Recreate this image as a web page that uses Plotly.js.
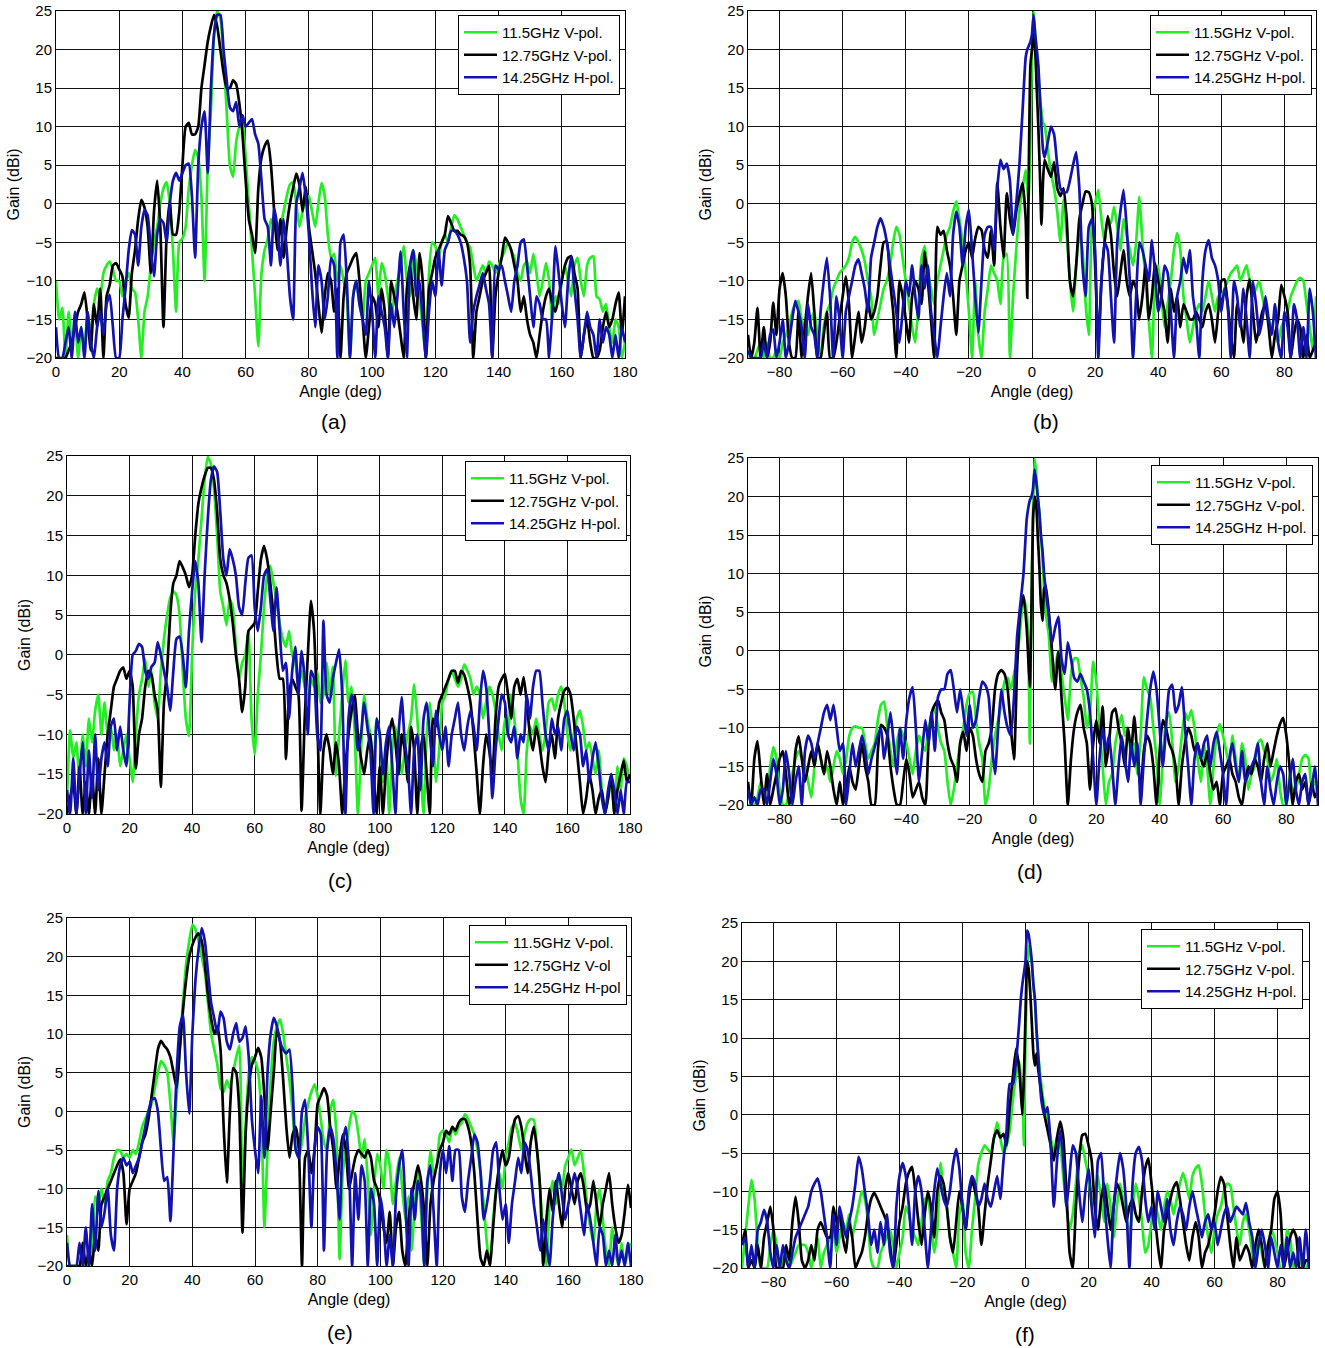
<!DOCTYPE html>
<html><head><meta charset="utf-8">
<script src="https://cdn.plot.ly/plotly-3.0.1.min.js"></script>
<style>body{margin:0;background:#fff}#chart{width:1325px;height:1348px}</style>
</head><body><div id="chart"></div>
<script>
// ---------------- angle grids ----------------
const ANGLE_0_180 = [
0,1,2,3,4,5,6,7,8,9,10,11,12,13,14,15,16,17,18,19,20,21,22,23,24,25,26,27,28,29,
30,31,32,33,34,35,36,37,38,39,40,41,42,43,44,45,46,47,48,49,50,51,52,53,54,55,56,57,58,59,
60,61,62,63,64,65,66,67,68,69,70,71,72,73,74,75,76,77,78,79,80,81,82,83,84,85,86,87,88,89,
90,91,92,93,94,95,96,97,98,99,100,101,102,103,104,105,106,107,108,109,110,111,112,113,114,115,116,117,118,119,
120,121,122,123,124,125,126,127,128,129,130,131,132,133,134,135,136,137,138,139,140,141,142,143,144,145,146,147,148,149,
150,151,152,153,154,155,156,157,158,159,160,161,162,163,164,165,166,167,168,169,170,171,172,173,174,175,176,177,178,179,180];
const ANGLE_SYM = [
-90,-89,-88,-87,-86,-85,-84,-83,-82,-81,-80,-79,-78,-77,-76,-75,-74,-73,-72,-71,
-70,-69,-68,-67,-66,-65,-64,-63,-62,-61,-60,-59,-58,-57,-56,-55,-54,-53,-52,-51,
-50,-49,-48,-47,-46,-45,-44,-43,-42,-41,-40,-39,-38,-37,-36,-35,-34,-33,-32,-31,
-30,-29,-28,-27,-26,-25,-24,-23,-22,-21,-20,-19,-18,-17,-16,-15,-14,-13,-12,-11,
-10,-9,-8,-7,-6,-5,-4,-3,-2,
-1.5,-1,-0.5,0,0.5,1,1.5,2,2.5,3,3.5,4,
5,6,7,8,9,10,11,12,13,14,15,16,17,18,19,20,21,22,23,24,25,26,27,28,29,30,
31,32,33,34,35,36,37,38,39,40,41,42,43,44,45,46,47,48,49,50,51,52,53,54,55,56,57,58,59,60,
61,62,63,64,65,66,67,68,69,70,71,72,73,74,75,76,77,78,79,80,81,82,83,84,85,86,87,88,89,90];

const NAMES_STD = ['11.5GHz V-pol.','12.75GHz V-pol.','14.25GHz H-pol.'];
const NAMES_E = ['11.5GHz V-pol.','12.75GHz V-ol','14.25GHz H-pol'];
const PANEL_LABELS = ['(a)','(b)','(c)','(d)','(e)','(f)'];
const X_TITLE = 'Angle (deg)';
const Y_TITLE = 'Gain (dBi)';

// ---------------- panel (a) ----------------
const A_GREEN = [
-10,-15,-13.5,-20,-14,-18,-15,-20,-16,-19,
-14,-17,-13,-11,-12,-9,-8,-7.5,-8.5,-10,
-10,-12,-10,-9,-11,-11.5,-15,-20,-14,-12,
-8,-5,-3,0,2,2.8,0,-6,-14,-5,
-4.5,-3,2,5,7,6,1,-10,5,12,
22,25,24,19,12,5,3.5,8,10,11,
6,0,-6,-12,-18.5,-9,-6,-4.5,-2,-3,
-4,-3,-1,1,2.5,2.8,0,-3,-1,0.5,
1,-1,-3,0,2.7,1,-4,-7,-6.5,-10,
-8,-10,-12,-20,-12,-10,-13,-15,-10,-9,
-8,-7,-12,-7.7,-9,-12,-15,-12,-10,-8,
-5.5,-10,-12,-6,-8,-12,-16,-20,-9,-5,
-5.5,-7,-5,-4,-5,-3,-1.5,-2,-3,-4,
-5,-5.7,-8,-10,-9,-8,-9,-7.5,-8,-9,
-8,-7,-6,-5,-6,-7,-9,-10,-8,-7.5,
-9,-6.5,-9,-12,-10,-7.7,-10,-15,-12,-13,
-10,-8,-10,-12,-8,-7,-10,-12,-8,-7,
-6.8,-12,-12.4,-14,-13,-16,-18,-15,-16,-20,-18];
const A_BLACK = [
-20,-20,-20,-20,-19,-18,-16,-14,-13,-11.5,
-15,-19,-13,-16,-11,-20,-12,-10.5,-8,-7.7,
-8.5,-9.4,-13,-14.8,-9,-6,-2,0.5,-0.5,-3,
-9,-1,3,-3,-16,-4,0.3,-4,-4,-1,
5,10,10.5,9,9,10,15,18,21,23,
24.5,23,20,17,15,15,16,15.5,13,9,
3,-2,-4,-6.4,2,6,7.5,8.2,5,-0.8,
-6,-2,-7,-3,0,2,3.9,2.5,-1,2.2,
-3,-6,-9,-13,-16.7,-12,-9,-10,-14,-11,
-20,-12,-9,-8,-7,-6.4,-10,-15,-20,-16,
-12,-13,-16,-11,-14,-20,-10,-12,-14,-17,
-20,-11,-8,-12,-15,-6.4,-10,-20,-11,-9,
-7,-6,-5,-4,-1.6,-2.5,-3.5,-3.5,-4,-4.2,
-5,-8,-20,-14,-12,-10,-9,-8,-20,-12,
-9,-7,-4.4,-5,-6,-8,-10,-14,-12,-15,
-17,-18,-20,-17,-14,-12,-11,-13,-14,-12,
-10,-8,-7,-6.8,-9,-11,-20,-17,-15,-18,
-20,-20,-19,-16,-14,-16,-15,-13,-11.5,-17,-12];
const A_BLUE = [
-16,-20,-20,-18,-16,-20,-14,-18,-16,-20,
-14,-18,-20,-16,-14,-17,-13,-11.8,-16,-20,
-20,-15,-11,-6,-3.4,-4,-8,-3,-0.8,-1.5,
-6,-9.4,-4,-2,-2.5,-5,0,3,4,3,
4,5,5.2,1,-7,5,10,12,4,15,
22,24.5,24.5,20,16,12.5,12,13.2,10,11.5,
10,10.5,11,9,7.8,3,-2,-3,-8,-0.6,
-3,-8,-2,-6,-12,-15,0,2,4,1,
-4,-11,-16,-8,-10,-15,-12,-7,-8,-20,
-5,-4,-10,-20,-12,-10,-13,-15,-17,-10,
-14,-20,-12,-14,-16,-20,-13,-16,-12,-6.2,
-14,-20,-8,-6,-12,-10,-15,-20,-14,-10,
-12,-6,-10.6,-6,-5,-3.5,-3.5,-4,-5,-7,
-10,-18,-14,-12,-10.5,-9,-11,-13,-20,-8,
-8.5,-8,-10,-12,-14,-10,-8,-5,-4.6,-8,
-12,-16,-12,-13,-15,-15,-20,-14,-5.5,-9,
-13,-16,-10,-6.8,-11,-15,-20,-17,-14,-16,
-17,-20,-15,-18,-16,-17,-20,-17,-20,-16,-18];

// ---------------- panel (b) ----------------
const B_GREEN = [
-20,-20,-20,-19,-18,-20,-18,-20,-20,-19,
-20,-18,-17,-16,-14,-13,-12.6,-15,-16,-17,
-15,-14,-17,-20,-16,-14,-13,-11,-10,-9,
-8.5,-8,-7,-5,-4.3,-5,-6,-7.5,-10,-12,
-17,-15,-13,-11,-10,-8,-5,-3,-4,-7,
-10,-13,-16,-18,-13,-7,-5.5,-9,-11,-13,
-10,-8,-6,-4,-3,-1,0.3,-2,-5,-9,
-14,-20,-10,-17,-20,-14,-11,-8,-9,-10,
-13,-7,-6.5,-20,-12,-6,-1,2,4.4,
2,0,8,20,25,22,20,17,14,12,10.5,10.2,
7,4,2,-1,-5,0.5,
-4,-10,-14,-8,-4,-6,-13,-17,-2,0,
1.8,-2,-5,-2,-2.5,-0.4,-3,-6,-2,-4,
-6,-8,-5,0.9,-5,-10,-15,-20,-10,-8,
-12,-16,-13,-10,-6,-3.8,-6,-12,-15,-18,
-16,-14,-13,-14,-12,-10,-12,-14,-12,-12,
-11,-10,-9,-8.5,-8,-10,-9,-8,-10,-12,
-11,-10,-12,-14,-15,-16,-17,-18,-16,-15,
-14,-12,-11,-10,-9.6,-10,-13,-16,-19,-12];
const B_BLACK = [
-17,-20,-18,-13.5,-20,-16,-20,-18,-12.8,-17,
-11,-9,-12,-18,-20,-20,-14,-20,-16,-12,
-9,-14,-20,-20,-17,-14,-20,-20,-18,-15,
-12,-9.4,-13,-20,-17,-14,-18,-16,-12.5,-15,
-14,-12,-8,-5,-4.9,-10,-14,-20,-10,-12,
-15,-18,-12,-10,-11,-13,-6.2,-10,-15,-20,
-3,-4,-3.5,-6,-8,-12,-17,-10,-8,-6,
-5,-7,-4.5,-3,-3.4,-6,-7,-3.5,-8,2.7,
-3,-7,1.4,-2,-4,-1,1,2.7,-2,
-12.2,5,18,20,22,20,15,10,4,-2.7,3,5.7,
4.5,3.5,5.4,2,1,2,
-2,-10,-12,-8,-2,0,1.6,1.5,0,-8,
-18,-10,-5,-1.6,-4,-9,-12,-9,-6,-10,
-12,-10,-11,-15,-12,-8,-15,-12,-7.7,-10,
-12,-14,-18,-11,-14,-12,-16,-13,-14,-15,
-15,-14,-15,-16,-14,-13,-15,-18,-14,-10,
-9.8,-13,-17,-20,-13,-15,-18,-12,-9.8,-14,
-18,-16,-14,-13,-16,-20,-17,-15,-10.5,-12,
-14,-20,-17,-15,-16,-20,-17,-20,-19,-18];
const B_BLUE = [
-19,-20,-20,-20,-20,-18,-20,-17,-16.3,-20,
-18,-15,-20,-18,-15,-12.6,-14,-16,-20,-13,
-16,-17,-20,-14,-10,-7,-12,-20,-12,-15,
-20,-14,-12,-10,-8,-7.2,-9,-11,-14,-7,
-5,-3,-1.9,-3,-5,-8,-11,-14,-18,-14,
-10,-12,-8,-12,-15,-8,-11,-8,-14,-17,
-20,-16,-12,-9,-12,-4,-1,-3,-8,-3,
-0.8,-6,-12,-16.7,-10,-4,-3,-3,-6,2,
5.7,4.5,5.2,3,-4,0,5,12,19,
20,20.5,21,22,24.5,22,20,18,14,10,7,6,
8,10,9,5,2,1.5,
1.5,3,5,6.7,2,-8,-12,-3,-2,-6,
-20,-10,-5,-6,-12,-18,-5,-1,1.8,-3,
-10,-20,-12,-5,-6,-8,-10,-4.7,-9,-14,
-12,-8,-9,-14,-20,-12,-10,-7,-9,-6,
-12,-15,-20,-10,-6,-4.7,-7,-8,-10,-14,
-11,-13,-20,-10,-12,-16,-11,-15,-20,-10,
-13,-17,-15,-12,-15,-17,-13,-18,-20,-14,
-16,-20,-13,-15,-20,-16,-20,-11,-14,-20];

// ---------------- panel (c) ----------------
const C_GREEN = [
-18,-9.5,-13,-11,-16,-10,-14,-8,-11,-7,
-5,-10,-6,-10,-9,-12,-10,-14,-12,-10,
-13,-16,-10,-5,-3,-0.5,-4,-2,-6,-8,
-2,2,5,7.2,8,7.5,5,-2,-8,-10.2,
0,8,12,17,22,24.9,24,21,15,8,
6,3.7,7,6,1,-3,-1,0,3,-8,
-12.5,-5,0,6,10,11.2,9,7,4,2,
1,3,0,-1,-4,-2,-4,-6,-3,-4,
-2,-6,-5,-1,-5,-1.5,-15.2,-10,-5,-0.7,
-6,-4,-10,-20,-12,-5,-8,-10,-14,-8,
-10,-16,-12,-20,-12,-9,-12,-15,-12,-10,
-8,-3.7,-8,-14,-20,-10,-6,-10,-16,-12,
-6,-5,-3,-2,-3,-4,-3,-1.2,-2,-3,
-5,-4,-5,-8,-6,-4,-5,-7,-10,-12,
-8,-10,-5,-8,-12,-18,-20,-12,-9,-10,
-8,-10,-12,-10,-6,-5.5,-7,-5,-4,-6,
-10,-12,-10,-8,-7,-9,-12,-11,-13,-15,
-12,-17,-20,-18,-16,-20,-14,-17,-13,-14,-16];
const C_BLACK = [
-20,-18,-16,-20,-14,-20,-16,-20,-15,-20,
-13,-20,-15,-10,-7,-4,-3,-2,-1.6,-3,
-2,-4,-14.3,-10,-8,-4,-2,-2.5,-5,-7,
-16.6,-6,-2,5,9,10,11.8,11,10,8.5,
10,15,19,21,22.5,23.5,23.5,22,18,12,
10,9,7,4,0,-3,-7.2,-4,3,3.5,
4,8,12,13.7,12,9,5,0,-3,-3,
-13.1,-5,-3,-4,-5,-19.6,-8,0,6.8,3,
-8,-20,-12,-10,-12,-15,-11,-14,-20,-14,
-10,-7,-5.1,-10,-13,-15,-12,-10,-15,-20,
-14,-20,-14,-10,-8,-11,-15,-10,-12,-16,
-9,-12,-20,-12,-10,-15,-20,-8,-9,-6,
-5,-4,-3,-2,-2,-3.5,-2,-2.5,-4,-6,
-10,-15,-20,-14,-10,-12,-15,-8,-4,-3,
-2.4,-5,-8,-4,-3,-5,-2.8,-6,-10,-12,
-9,-11,-14,-16,-12,-10,-13,-8,-6,-4.5,
-4.1,-5,-8,-12,-16,-20,-18,-15,-17,-20,
-18,-17,-20,-18,-15,-20,-17,-15,-13.3,-16,-15];
const C_BLUE = [
-17,-20,-13,-20,-15,-11,-20,-12,-18,-10,
-17,-13,-11,-14,-9,-8,-12,-9,-12,-14,
-6,0,0.5,1.4,1,-2,-3,-1.5,-1,1.6,
0,-2,-4,-7,-2,2,2.3,0,-4.1,3,
8,11.8,9,1.6,10,17,22,23.7,23,18,
12,10,13.3,12,10,6,5,9,12.2,12.5,
6,3,6,10,10.8,7,3,8.5,3,-2,
-1,-8,-2,1,-5,0.5,-3,-10,-2,-3,
-10,-12,4.3,-5,-6,-3,-1,0.7,-5,-20,
-8,-5,-7,-12,-10,-6,-9,-12,-20,-8,
-10,-15,-11,-9,-14,-20,-10,-5.3,-11,-14,
-20,-12,-10,-17,-8,-6,-10,-14,-7,-10,
-12,-9,-14,-10,-8,-6,-10,-12,-9,-7,
-9,-12,-6,-2,-4,-10,-18,-12,-8,-5,
-6,-10,-11,-9,-13,-10,-11,-5,-8,-4,
-2,-2,-6,-10,-12,-8,-10,-9,-12,-8,
-7,-10,-12,-9,-10,-14,-12,-16,-13,-11,
-14,-18,-20,-17,-15,-17,-20,-17,-20,-16,-16];

// ---------------- panel (d) ----------------
const D_GREEN = [
-20,-20,-20,-19,-17,-18,-18,-15,-12.5,-14,
-18,-20,-20,-18,-16,-14,-13,-14,-15,-17,
-19,-15,-12,-14,-16,-15,-17,-15,-13,-14,
-16,-14,-11,-10,-9.8,-10,-10,-12,-14,-13,
-12,-9,-7,-6.6,-10,-13,-15,-12,-10,-11,
-12,-14,-16,-13,-11,-12,-13,-10,-8.5,-7.5,
-10,-12,-13,-17,-20,-18,-15,-12,-10,-7,
-5.5,-5.3,-9,-12,-14,-20,-18,-14,-11,-9,
-7,-4,-3.5,-5,-3,-1,3,7,5,
1,-12,6,18,25,23,20,18,15,12,8,5,
2,-4,-2,0,-3,-6,
-9,-3,-1,-1,-3.5,-6,-10,-8,-1.4,-4,
-10,-15,-20,-17,-16,-12,-10,-8.3,-11,-10,
-14,-12,-16,-11,-3.4,-5,-6,-10,-14,-20,
-14,-9,-8,-12,-17,-15,-11,-8,-9,-7.7,
-10,-14,-17,-12,-15,-20,-15,-11,-9.5,-11,
-13,-15,-11,-14,-17,-12,-14,-18,-16,-15,
-12,-11.5,-13,-14,-17,-16,-14,-18,-20,-20,
-16,-18,-18,-16,-14,-13.5,-14,-18,-17,-17];
const D_BLACK = [
-17,-20,-14,-11.7,-16,-20,-16,-20,-18,-16,
-14,-13,-16,-20,-18,-13,-11.1,-14,-17,-15,
-13,-15,-12,-14,-16,-13,-15,-18,-20,-17,
-20,-18,-15,-17,-18,-15,-12,-15,-17,-20,
-20,-13,-9.6,-10,-11,-15,-18,-20,-20,-17,
-14,-16,-19,-18,-17,-19,-20,-12,-8,-7,
-6.4,-8,-9,-12,-14,-15,-17,-12,-10.5,-13,
-10,-11,-14,-16,-17,-13,-12,-10,-5,-3,
-2.5,-3,-5,-10,-14.1,-2,5,7.2,3,
-1,-4.7,5,17,20,19,15,11,6,3.9,8,8.5,
5,0,-5,-0.1,-6,-12,
-20,-14,-10,-8,-7,-10,-12,-18,-12,-9,
-12,-7.2,-15,-12,-8,-7.5,-10,-12,-15,-10,
-13,-8.5,-14,-18,-13,-11,-12,-15,-20,-13,
-9,-10,-12,-13,-15,-20,-15,-12,-10,-11,
-13,-12,-14,-15,-13,-16,-18,-17,-20,-16,
-15,-14,-16,-17,-19,-20,-17,-15,-16,-14,
-15,-17,-14,-12,-15,-13,-11,-9.5,-8.7,-11,
-15,-20,-17,-16,-18,-17,-20,-17,-19,-18];
const D_BLUE = [
-18,-20,-19,-20,-18,-18,-20,-17,-14,-16,
-20,-18,-13,-16,-20,-17,-15,-20,-13,-11,
-12,-14,-12,-10,-8,-7,-9,-7,-10,-13,
-12,-20,-16,-12,-15,-13,-11,-13,-16,-14,
-12.5,-11,-10,-14,-11,-8,-12,-16,-10,-14,
-9,-6,-4.7,-10,-17,-13,-9,-12,-8,-13,
-6,-5,-5,-3,-2.5,-5,-8,-5,-8,-11,
-7,-10,-9,-6,-4,-4.5,-6,-12,-16,-10,
-5,-8,-10,-11,-6,2,6,10,17,
18.5,19.5,20,21,23.5,22,20,18,15,13,10,8,
4.5,1,3,4.4,-1,-3,
1.1,-1,-3.5,-4,-3,-4,-5,-8,-14,-20,
-14,-10,-13,-11,-15,-20,-15,-11,-14,-17,
-12,-15,-12,-20,-14,-9,-5,-2.7,-5,-10,
-15,-10,-5,-4.4,-8,-7,-4.7,-10,-15,-20,
-14,-12,-14,-12,-11,-15,-12,-10.5,-13,-16,
-20,-14,-12,-15,-17,-13,-17,-16,-15,-14,
-12,-17,-20,-15,-18,-20,-17,-15,-16,-20,
-17,-14,-18,-20,-17,-16,-20,-18,-15,-20];

// ---------------- panel (e) ----------------
const E_GREEN = [
-16,-20,-20,-20,-20,-20,-20,-20,-17,-11,
-12,-10,-12,-9,-8,-6,-5,-5.1,-6,-5.5,
-6,-5,-5.5,-4,-2,-1,0,1,3,5,
6.5,6,5,1,-4,2,8,14,19,22,
24.1,23.5,22,20,18,14,10,8,6,3,
2.5,4,3,5,7,8.5,-11.8,-2,5,7,
6.5,5,0,-15,-5,4,9,11,11.9,10,
7,4,0,-5,-6,-4,-1,1,2.5,3.5,
2,-1,-4,-5,0,1.5,-3,-19.1,-8,-5,
-2,0,-0.5,-3,-6,-3.6,-9,-16,-10,-5.5,
-7,-10,-5,-7,-12,-9,-6,-10,-14,-11,
-18,-12,-8,-13,-20,-10,-5,-8,-7,-3,
-2.5,-3,-4,-2,-3,-2,-1.5,-0.4,-1,-2,
-3,-5,-8,-12,-17,-20,-14,-10,-8,-10,
-6,-4,-2,-1.5,-3,-5,-3,-1.5,-1,-1.1,
-5,-10,-16,-20,-12,-9,-12,-8,-10,-7,
-6,-4.9,-7,-6,-5,-8,-12,-15,-17,-12,
-10,-14,-18,-20,-15,-18,-20,-17,-20,-18,-17];
const E_BLACK = [
-20,-20,-20,-20,-20,-17,-20,-18,-20,-16,
-18,-12,-11,-10,-9,-8,-7,-6.2,-8,-14.6,
-10,-9,-8,-6,-4,-3,-1,2,5,8,
9.1,8.5,8,7,5,3,8,13,17,20,
21.5,22.5,23,22,19,15,12,10,11,8,
-2,-9.2,0,5.6,5,0,-15.7,-3,3,6,
7,8.2,7,2,-5,0,5,10.6,9,4,
-2,-6,-3,-2,-5,-20,-6,-5,-8,-5,
1,2,3,2,-2,-5,-10,-6,-3,-5,
-10,-8,-6,-5,-5.5,-6,-5,-6,-9,-10,
-12,-15,-17,-13,-20,-15,-13,-18,-20,-14,
-11,-9,-7,-9,-13,-20,-12,-9,-7,-5,
-4,-2.5,-3,-2,-2.5,-1.5,-1,-1,-2,-4,
-8,-14,-19,-20,-18,-20,-15,-10,-7,-5,
-7,-6,-3,-1,-0.6,-2,-5,-8,-4,-2,
-5,-10,-20,-14,-10,-13,-9,-12,-15,-10,
-8,-10,-12,-9,-8,-10,-13,-12,-9,-12,
-15,-12,-10,-8,-12,-15,-17,-16,-13,-9.5,-12.5];
const E_BLUE = [
-17,-20,-20,-20,-17,-20,-15,-20,-12,-18,
-10.3,-15,-13,-10,-16,-18,-10,-7,-6,-7,
-6.5,-8,-7,-6,-4,-2,0,1.5,1.7,0,
-5,-9,-8.5,-14.2,-5,5,11,12.5,5,-0.3,
10,17,21,23.7,22,18,14,12,10,12.9,
12,9,8,10,11.4,9,9.5,11,7,-1,
-5,-8,2,-6,5,10,12.1,11,9,8,
7.5,8,3,-5,-6,0,1.5,-5,-15,-5,
-2,-3,-18,-5,-2,-3.5,-8,-14,-4,-2,
-7,-20,-8,-14,-7,-9,-20,-10,-12,-20,
-11,-14,-20,-16,-20,-11,-7,-5,-12,-20,
-10,-14,-9,-11,-20,-9,-7,-13,-20,-8,
-5,-8,-4.5,-9,-5,-5,-11,-13,-9,-6,
-3,-4,-8,-14,-12,-9,-5,-4,-10,-14,
-12,-17,-12,-9,-6,-8,-4,-5,-8,-12,
-15,-18,-14,-17,-20,-14,-10,-8,-11,-14,
-12,-10,-8,-10,-13,-16,-12,-14,-17,-20,
-15,-16,-20,-18,-20,-16,-20,-18,-20,-17,-20];

// ---------------- panel (f) ----------------
const F_GREEN = [
-20,-16,-12,-8.5,-11,-17,-20,-20,-20,-17,
-15,-17,-20,-19,-18,-20,-19,-18,-17,-17,
-17,-18,-20,-18,-16,-20,-18,-17,-16,-15,
-18,-16,-14,-15,-13,-16,-14,-12,-10,-11,
-14,-19,-20,-20,-18,-17,-16,-15,-17,-20,
-18,-16,-12,-13,-15,-16,-17,-14,-11,-11,
-14,-18,-15,-6.3,-10,-12,-16,-18,-20,-13,
-11,-18,-20,-15,-11,-6.5,-5,-4,-4.5,-5,
-3,-1,-3,-5,-4,-2,2,5,7,
5,3,-4,10,18,22,21,20,17,15,11,8,
4,1,-1,-3,-5,-3,
-4,-8,-12,-15,-13,-9,-5,-4,-6,-8,
-12,-10,-8,-11,-14,-9,-12,-16,-12,-9,
-11,-13,-16,-12,-9,-11,-14,-18,-17,-14,
-12,-13,-15,-12,-10,-11,-13,-11,-9,-7.6,
-9,-11,-8,-7,-6.6,-9,-13,-16,-18,-15,
-13,-12,-10,-9,-9.2,-12,-15,-17,-14,-13,
-15,-18,-20,-16,-18,-20,-17,-15,-16,-18,
-20,-20,-15,-16,-20,-19,-18,-20,-20,-19];
const F_BLACK = [
-17,-15,-20,-19,-20,-17,-20,-16,-14,-12,
-15,-20,-20,-20,-17,-19,-14,-10.7,-14,-19,
-20,-19,-17,-19,-15,-14,-15,-16,-16,-12,
-14,-13,-16,-18,-14,-16,-20,-19,-18,-16,
-13,-11,-10.2,-11,-12,-13,-14,-17,-20,-17,
-14,-12,-9,-7.5,-6.8,-10,-14,-17,-13,-10,
-12,-16,-10,-8,-9,-12,-16,-18,-14,-10,
-12,-15,-11,-8.5,-10,-12,-17,-13,-9,-6,
-3,-2,-3,-2.5,-4,1,5,8.6,6,
3,0,5,13,20,19,16,12,8,6.4,8,6,
3,0,-2,-4,-6,-3,
-0.9,-3,-10,-18,-20,-12,-6,-2.7,-2.5,-4,
-6,-12,-15,-11,-9,-12,-15,-12,-9,-10,
-12,-14,-12,-11,-13,-14,-10,-7,-5.7,-9,
-13,-17,-20,-15,-13,-11,-9.5,-8.8,-11,-14,
-17,-19,-16,-14,-16,-20,-18,-17,-15,-13,
-10,-8.1,-9,-13,-17,-20,-16,-19,-18,-17,
-18,-20,-17,-15,-17,-20,-17,-15,-11,-10,
-13,-20,-18,-16,-15,-16,-20,-20,-19,-19];
const F_BLUE = [
-17,-16,-20,-17,-20,-15,-14,-12.4,-14,-18,
-20,-17,-20,-17,-19,-20,-18,-16,-15,-14,
-13,-12,-10,-9,-8.3,-10,-13,-16,-20,-13,
-17,-12,-14,-16,-14,-12,-9,-5.5,-7,-10,
-13,-17,-15,-18,-14,-17,-13,-18,-20,-12,
-8,-6.3,-8,-12,-17,-10,-8,-10,-15,-20,
-15,-10,-7,-9,-11,-12,-10,-6.5,-4.5,-7,
-12,-15,-10,-8,-9,-12,-11,-9,-11,-12,
-10,-8,-11,-6,-2,4,4,7,12,
15,17,18.5,20,24,23.5,22,20,17,15,11,8,
2,0,1,-4,-12,-6,
-2,-6,-12,-8,-4,-5,-10,-14,-10,-7,
-12,-16,-6,-5,-11,-16,-20,-12,-8,-5,
-7,-12,-20,-9,-5,-4.2,-6,-11,-14,-12,
-15,-10,-12,-14,-11,-15,-17,-14,-12,-13,
-15,-12,-10,-12,-14,-16,-14,-13,-15,-14,
-17,-15,-13,-12,-14,-13,-12,-12.5,-13,-11.5,
-14,-16,-20,-17,-15,-17,-20,-16,-18,-20,
-17,-20,-16,-20,-18,-20,-16,-20,-15,-20];

// ---------------- drawing ----------------
const W = 1325, H = 1348;
const COLORS = ['#22ee22', '#000000', '#1212b0'];
const FONT = 'Liberation Sans, Arial, Helvetica, sans-serif';

const panels = [
  {x: ANGLE_0_180, ys: [A_GREEN, A_BLACK, A_BLUE], names: NAMES_STD, box: [56, 11, 625, 358], range: [0, 180], leg: [620, 15], lab: [334, 421]},
  {x: ANGLE_SYM, ys: [B_GREEN, B_BLACK, B_BLUE], names: NAMES_STD, box: [748, 11, 1316, 358], range: [-90, 90], leg: [1312, 15], lab: [1046, 421]},
  {x: ANGLE_0_180, ys: [C_GREEN, C_BLACK, C_BLUE], names: NAMES_STD, box: [67, 456, 630, 814], range: [0, 180], leg: [627, 461], lab: [340, 881]},
  {x: ANGLE_SYM, ys: [D_GREEN, D_BLACK, D_BLUE], names: NAMES_STD, box: [748, 458, 1318, 805], range: [-90, 90], leg: [1313, 465], lab: [1030, 871]},
  {x: ANGLE_0_180, ys: [E_GREEN, E_BLACK, E_BLUE], names: NAMES_E, box: [67, 918, 631, 1266], range: [0, 180], leg: [627, 925], lab: [340, 1332]},
  {x: ANGLE_SYM, ys: [F_GREEN, F_BLACK, F_BLUE], names: NAMES_STD, box: [742, 923, 1309, 1268], range: [-90, 90], leg: [1303, 929], lab: [1025, 1334]}
];

const traces = [];
const layout = {
  width: W, height: H,
  margin: {l: 0, r: 0, t: 0, b: 0},
  paper_bgcolor: '#fff', plot_bgcolor: '#fff',
  font: {family: FONT, size: 15, color: '#000'},
  showlegend: true,
  annotations: []
};

panels.forEach((p, i) => {
  const n = i + 1;
  const xa = 'x' + (n === 1 ? '' : n), ya = 'y' + (n === 1 ? '' : n);
  const lg = 'legend' + (n === 1 ? '' : n);
  p.ys.forEach((y, k) => {
    traces.push({
      type: 'scatter', mode: 'lines', x: p.x, y: y, name: p.names[k],
      xaxis: xa, yaxis: ya, legend: lg,
      line: {color: COLORS[k], width: 2.7, shape: 'spline', smoothing: 0.5},
      hoverinfo: 'skip'
    });
  });
  const [l, t, r, b] = p.box;
  const axCommon = {
    showline: true, mirror: true, linecolor: '#000', linewidth: 1,
    showgrid: true, gridcolor: '#111', gridwidth: 1,
    zeroline: false, ticks: '', automargin: false,
    tickfont: {family: FONT, size: 15, color: '#000'}
  };
  layout['xaxis' + (n === 1 ? '' : n)] = Object.assign({}, axCommon, {
    domain: [l / W, r / W], anchor: ya, range: p.range, tick0: 0, dtick: 20,
    title: {text: X_TITLE, font: {family: FONT, size: 16}, standoff: 6}
  });
  layout['yaxis' + (n === 1 ? '' : n)] = Object.assign({}, axCommon, {
    domain: [1 - b / H, 1 - t / H], anchor: xa, range: [-20, 25], tick0: 0, dtick: 5,
    title: {text: Y_TITLE, font: {family: FONT, size: 16}, standoff: 2}
  });
  layout[lg] = {
    x: p.leg[0] / W, y: 1 - p.leg[1] / H, xanchor: 'right', yanchor: 'top',
    bgcolor: '#fff', bordercolor: '#000', borderwidth: 1,
    font: {family: FONT, size: 15, color: '#000'},
    itemwidth: 33, tracegroupgap: 0
  };
  layout.annotations.push({
    text: PANEL_LABELS[i], xref: 'paper', yref: 'paper',
    x: p.lab[0] / W, y: 1 - p.lab[1] / H, xanchor: 'center', yanchor: 'middle',
    showarrow: false, font: {family: FONT, size: 21, color: '#000'}
  });
});

Plotly.newPlot('chart', traces, layout, {staticPlot: true, displayModeBar: false});
</script>
</body></html>
